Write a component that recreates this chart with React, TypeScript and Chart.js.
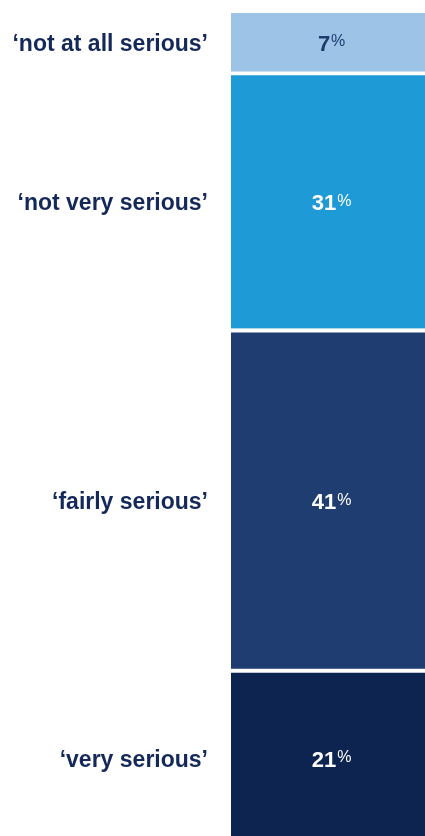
import React, { useEffect, useRef } from "react";
import { Chart, registerables } from "chart.js";

Chart.register(...registerables);

const categories = ["‘not at all serious’", "‘not very serious’", "‘fairly serious’", "‘very serious’"];
const values = [7, 31, 41, 21];
const colors = ["#9DC3E6", "#1E9AD6", "#203D72", "#0D2451"];
const valueTextColors = ["#1F3B6E", "#FFFFFF", "#FFFFFF", "#FFFFFF"];
const GAP = 4.5;

const labelPlugin = {
  id: "segmentLabels",
  afterDatasetsDraw(chart: any) {
    const ctx = chart.ctx;
    ctx.save();
    chart.data.datasets.forEach((ds: any, i: number) => {
      const meta = chart.getDatasetMeta(i);
      const el = meta.data[0];
      if (!el) return;
      const top = Math.min(el.y, el.base) + (i > 0 ? GAP : 0);
      const bottom = Math.max(el.y, el.base);
      const cy = (top + bottom) / 2;
      // category label on the left
      ctx.font = 'bold 23px "Liberation Sans", Arial, sans-serif';
      ctx.fillStyle = "#14295A";
      ctx.textAlign = "right";
      ctx.textBaseline = "alphabetic";
      ctx.fillText(categories[i], 208, cy + 8.5);
      // value label
      const numText = String(values[i]);
      ctx.font = 'bold 22px "Liberation Sans", Arial, sans-serif';
      const nw = ctx.measureText(numText).width;
      const cx = el.x - 4;
      const base = cy + 8.5;
      ctx.fillStyle = valueTextColors[i];
      ctx.textAlign = "left";
      ctx.fillText(numText, cx - nw / 2, base);
      ctx.font = '16px "Liberation Sans", Arial, sans-serif';
      ctx.fillText("%", cx + nw / 2 + 1, base - 4.5);
    });
    ctx.restore();
  },
};

export default function App() {
  const ref = useRef<HTMLCanvasElement | null>(null);
  useEffect(() => {
    if (!ref.current) return;
    const chart = new Chart(ref.current, {
      type: "bar",
      data: {
        labels: ["share"],
        datasets: values.map((v, i) => ({
          label: categories[i],
          data: [v],
          backgroundColor: colors[i],
          borderColor: "#FFFFFF",
          borderWidth: i > 0 ? { top: GAP, bottom: 0, left: 0, right: 0 } : 0,
          borderSkipped: false,
          barPercentage: 1,
          categoryPercentage: 1,
        })),
      },
      options: {
        responsive: false,
        animation: false,
        devicePixelRatio: 1,
        layout: { padding: { left: 231, top: 13, right: 0, bottom: 0 } },
        plugins: { legend: { display: false }, tooltip: { enabled: false } },
        scales: {
          x: { display: false, stacked: true },
          y: { display: false, stacked: true, min: 0, max: 99.16, reverse: true },
        },
      },
      plugins: [labelPlugin],
    });
    return () => chart.destroy();
  }, []);
  return (
    <div style={{ position: "fixed", left: 0, top: 0, width: 425, height: 836, background: "#fff" }}>
      <canvas ref={ref} width={425} height={836} style={{ display: "block" }} />
    </div>
  );
}
